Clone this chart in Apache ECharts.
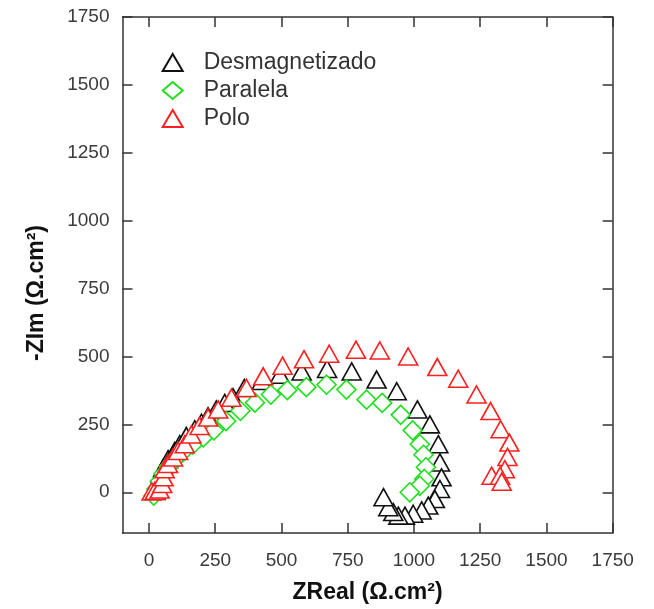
<!DOCTYPE html>
<html>
<head>
<meta charset="utf-8">
<script src="https://cdn.jsdelivr.net/npm/echarts@6/dist/echarts.min.js"></script>
<style>
  html, body { margin: 0; padding: 0; background: #fff; }
  #chart { width: 654px; height: 609px; }
</style>
</head>
<body>
<div id="chart"></div>
<script>
// Nyquist data: [ZReal, -ZIm] in Ω.cm²
const xTicks = [0, 250, 500, 750, 1000, 1250, 1500, 1750];
const yTicks = [0, 250, 500, 750, 1000, 1250, 1500, 1750];

const seriesNames = ['Desmagnetizado', 'Paralela', 'Polo'];

const desmagnetizado = [
  [25, 5], [35, 35], [45, 62], [53, 88], [72, 122], [97, 152], [116, 177],
  [141, 207], [173, 232], [198, 256], [223, 280], [254, 305], [286, 329],
  [317, 350], [360, 384], [425, 410], [494, 433], [576, 445], [672, 454],
  [765, 445], [859, 415], [935, 372], [1013, 305], [1060, 250], [1092, 177],
  [1098, 110], [1104, 55], [1098, 12], [1079, -25], [1054, -49], [1029, -67],
  [997, -79], [966, -86], [941, -86], [922, -73], [903, -55], [885, -18]
];

const paralela = [
  [18, -12], [28, 12], [40, 40], [55, 68], [75, 95], [100, 122], [130, 150],
  [165, 175], [205, 202], [245, 228], [291, 262], [345, 300], [400, 330],
  [460, 360], [522, 376], [594, 387], [670, 396], [745, 378], [821, 341],
  [880, 329], [950, 285], [995, 228], [1022, 177], [1036, 138], [1045, 92],
  [1039, 49], [1022, 24], [984, 0]
];

const polo = [
  [10, 3], [22, 6], [40, 10], [50, 30], [55, 55], [59, 85], [72, 104],
  [91, 128], [110, 152], [135, 177], [160, 213], [191, 244], [223, 275],
  [261, 305], [311, 348], [368, 384], [431, 427], [504, 466], [585, 490],
  [680, 510], [781, 525], [871, 522], [978, 500], [1088, 461], [1167, 418],
  [1236, 360], [1289, 299], [1327, 232], [1360, 183], [1353, 130], [1343, 85],
  [1293, 61], [1325, 61], [1331, 39]
];

const colors = ['#111111', '#1ee01e', '#ff2020'];
const symbols = ['triangle', 'diamond', 'triangle'];
const symbolSizes = [[19, 17], [19, 19], [19, 17]];
const dataSets = [desmagnetizado, paralela, polo];

const axisColor = '#333';
const tickFont = { fontFamily: 'Liberation Sans, Arial, sans-serif', fontSize: 19, color: '#3a3a3a' };
const plainNumber = (v) => String(v);

function frameAxis(extra) {
  return Object.assign({
    type: 'value',
    splitLine: { show: false },
    axisLine: { show: true, onZero: false, lineStyle: { color: axisColor, width: 1.5 } },
    axisTick: { show: true, inside: true, length: 10, lineStyle: { color: axisColor, width: 1.5 } }
  }, extra);
}

const chart = echarts.init(document.getElementById('chart'), null, { renderer: 'canvas' });

chart.setOption({
  backgroundColor: '#fff',
  animation: false,
  grid: { left: 122.5, right: 41.3, top: 17, bottom: 74.7, containLabel: false },
  legend: {
    orient: 'vertical',
    left: 156.7,
    top: 46,
    itemWidth: 20,
    itemHeight: 17,
    itemGap: 5,
    data: seriesNames,
    textStyle: {
      fontFamily: 'Liberation Sans, Arial, sans-serif',
      fontSize: 23,
      lineHeight: 23,
      color: '#333',
      padding: [0, 0, 0, 16]
    }
  },
  xAxis: [
    frameAxis({
      position: 'bottom',
      min: -100, max: 1750,
      name: 'ZReal (\u03A9.cm\u00B2)',
      nameLocation: 'middle',
      nameGap: 48,
      nameTextStyle: { fontFamily: 'Liberation Sans, Arial, sans-serif', fontSize: 23, fontWeight: 'bold', color: '#111' },
      axisTick: { show: true, inside: true, length: 10, customValues: xTicks, lineStyle: { color: axisColor, width: 1.5 } },
      axisLabel: Object.assign({ customValues: xTicks, margin: 18, formatter: plainNumber }, tickFont)
    }),
    frameAxis({
      position: 'top',
      min: -100, max: 1750,
      axisTick: { show: true, inside: true, length: 10, customValues: xTicks, lineStyle: { color: axisColor, width: 1.5 } },
      axisLabel: { show: false }
    })
  ],
  yAxis: [
    frameAxis({
      position: 'left',
      min: -150, max: 1750,
      name: '-ZIm (\u03A9.cm\u00B2)',
      nameLocation: 'middle',
      nameGap: 74,
      nameTextStyle: { fontFamily: 'Liberation Sans, Arial, sans-serif', fontSize: 23, fontWeight: 'bold', color: '#111', padding: [0, 36, 0, 0] },
      axisTick: { show: true, inside: true, length: 10, customValues: yTicks, lineStyle: { color: axisColor, width: 1.5 } },
      axisLabel: Object.assign({ customValues: yTicks, margin: 13, formatter: plainNumber }, tickFont)
    }),
    frameAxis({
      position: 'right',
      min: -150, max: 1750,
      axisTick: { show: true, inside: true, length: 10, customValues: yTicks, lineStyle: { color: axisColor, width: 1.5 } },
      axisLabel: { show: false }
    })
  ],
  series: seriesNames.map((name, i) => ({
    name: name,
    type: 'scatter',
    xAxisIndex: 0,
    yAxisIndex: 0,
    data: dataSets[i],
    symbol: symbols[i],
    symbolSize: symbolSizes[i],
    itemStyle: { color: '#fff', borderColor: colors[i], borderWidth: 1.6, opacity: 1 },
    emphasis: { disabled: true },
    z: 2 + i
  }))
});
</script>
</body>
</html>
